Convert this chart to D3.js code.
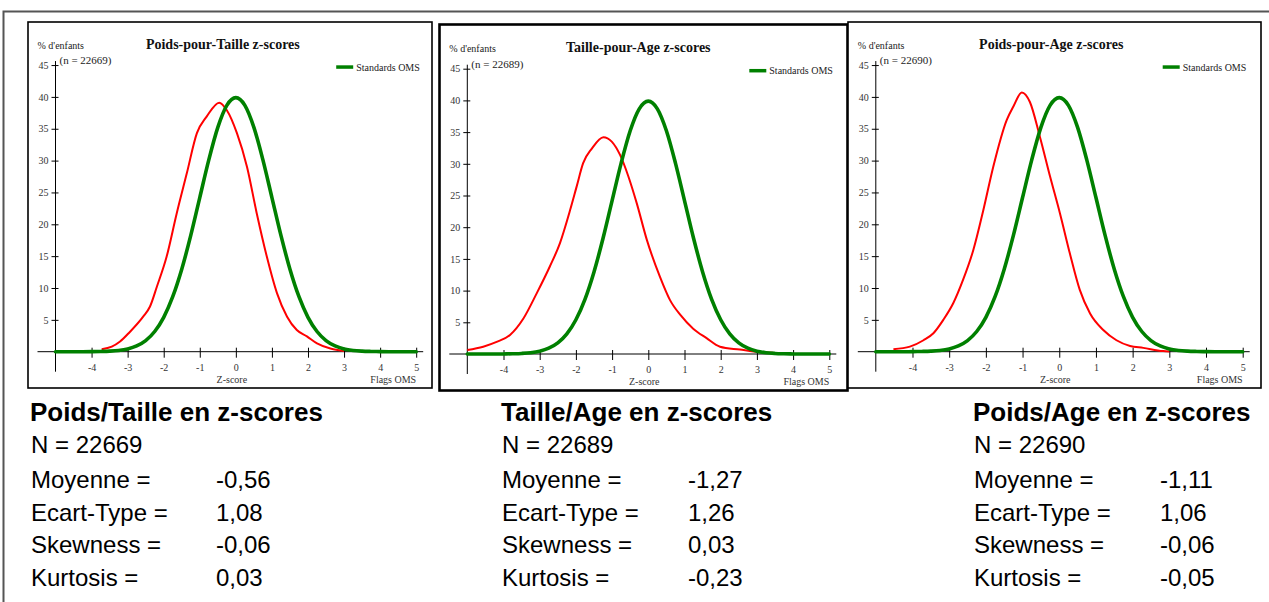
<!DOCTYPE html>
<html><head><meta charset="utf-8">
<script src="https://cdn.jsdelivr.net/npm/d3@7"></script>
<style>body{margin:0;background:#fff;} svg{display:block;}</style>
</head><body><svg id="c" width="1269" height="602"></svg>
<script>
// ---------- DATA ----------
const zTicks = [-4,-3,-2,-1,0,1,2,3,4,5];
const yTicks = [5,10,15,20,25,30,35,40,45];

// WHO standard curve (% of children), z from -5 to 5 by 0.25
const omsZ = [-5,-4.75,-4.5,-4.25,-4,-3.75,-3.5,-3.25,-3,-2.75,-2.5,-2.25,-2,-1.75,-1.5,-1.25,-1,-0.75,-0.5,-0.25,0,
              0.25,0.5,0.75,1,1.25,1.5,1.75,2,2.25,2.5,2.75,3,3.25,3.5,3.75,4,4.25,4.5,4.75,5];
const omsV = [0,0,0,0,0.01,0.04,0.09,0.20,0.44,0.91,1.75,3.17,5.40,8.63,12.95,18.26,24.20,30.11,35.21,38.67,39.89,
              38.67,35.21,30.11,24.20,18.26,12.95,8.63,5.40,3.17,1.75,0.91,0.44,0.20,0.09,0.04,0.01,0,0,0,0];

// Observed survey curves
const wfhZ = [-3.72,-3.44,-3.21,-2.94,-2.57,-2.38,-2.19,-1.92,-1.64,-1.36,-1.08,-0.81,-0.46,-0.25,0.03,0.31,0.58,0.86,1.14,1.42,1.69,1.97,2.25,2.62,2.9,3.0];
const wfhV = [0.4,0.8,1.6,3.1,5.5,7.1,10.2,14.9,21.7,28.0,34.3,36.9,39.1,37.9,34.3,29.0,21.7,14.9,9.2,5.5,3.4,2.4,1.3,0.5,0.2,0.1];

const hfaZ = [-5.0,-4.56,-4.19,-3.82,-3.45,-3.08,-2.72,-2.44,-2.16,-1.98,-1.8,-1.56,-1.24,-1.01,-0.78,-0.55,-0.32,-0.04,0.32,0.6,0.88,1.24,1.61,1.98,2.53,3.08,3.45];
const hfaV = [0.63,1.15,1.9,3.0,5.6,9.6,13.8,17.5,22.7,26.4,30.1,32.4,34.2,33.5,31.4,28.0,23.8,18.0,12.2,8.5,6.2,4.0,2.5,1.15,0.7,0.3,0.2];

const wfaZ = [-4.52,-4.07,-3.7,-3.43,-3.16,-2.89,-2.62,-2.34,-2.07,-1.8,-1.43,-1.25,-1.02,-0.8,-0.53,-0.25,0.02,0.29,0.56,0.84,1.2,1.56,1.93,2.29,2.83,3.0];
const wfaV = [0.4,0.8,1.8,2.9,5.0,7.6,11.3,16.0,22.2,29.0,36.4,38.5,40.7,39.2,33.8,27.5,21.7,15.4,9.7,6.0,3.4,1.8,0.9,0.6,0.1,0.05];

const chartTitles = ["Poids-pour-Taille z-scores","Taille-pour-Age z-scores","Poids-pour-Age z-scores"];
const nValues = [22669, 22689, 22690];
const summaryTitles = ["Poids/Taille en z-scores","Taille/Age en z-scores","Poids/Age en z-scores"];
const statLabels = ["Moyenne =","Ecart-Type =","Skewness =","Kurtosis ="];
const statValues = [["-0,56","1,08","-0,06","0,03"],["-1,27","1,26","0,03","-0,23"],["-1,11","1,06","-0,06","-0,05"]];
const obsZ = [wfhZ, hfaZ, wfaZ];
const obsV = [wfhV, hfaV, wfaV];

// ---------- LAYOUT ----------
const panels = [
  {bx:28,  by:22,  bw:404, bh:366, sw:1.6, axisX:55.5,  zeroY:351.7, unitX:36.07, unitY:6.37, titleDx:-13, titleY:49, textX:30,  valX:216},
  {bx:439.5,by:24.5,bw:408, bh:366, sw:2.6, axisX:467.3, zeroY:354,   unitX:36.2,  unitY:6.34, titleDx:-10, titleY:52, textX:501, valX:688},
  {bx:848, by:22,  bw:413, bh:366, sw:1.6, axisX:875.8, zeroY:351.7, unitX:36.69, unitY:6.37, titleDx:-8,  titleY:49, textX:973, valX:1160}
];
const SERIF = "'Liberation Serif','Times New Roman',serif";
const SANS = "'Liberation Sans',Arial,sans-serif";

const svg = d3.select("#c");
svg.append("rect").attr("width",1269).attr("height",602).attr("fill","#fff");
// outer frame
svg.append("path").attr("d","M3.5,602V11.5H1269").attr("fill","none").attr("stroke","#555").attr("stroke-width",2);

panels.forEach((p, i) => {
  const g = svg.append("g");
  g.append("rect").attr("x",p.bx).attr("y",p.by).attr("width",p.bw).attr("height",p.bh)
    .attr("fill","#fff").attr("stroke","#000").attr("stroke-width",p.sw);

  const x = d3.scaleLinear().domain([-5,5]).range([p.axisX, p.axisX + 10*p.unitX]);
  const y = d3.scaleLinear().domain([0,45]).range([p.zeroY, p.zeroY - 45*p.unitY]);

  // axis lines
  g.append("line").attr("x1",p.axisX-18).attr("x2",x(5)+7).attr("y1",p.zeroY).attr("y2",p.zeroY)
    .attr("stroke","#000").attr("stroke-width",1);
  g.append("line").attr("x1",p.axisX).attr("x2",p.axisX).attr("y1",y(45)-4).attr("y2",p.zeroY+20)
    .attr("stroke","#000").attr("stroke-width",1);

  // y axis
  const ya = g.append("g").attr("transform",`translate(${p.axisX},0)`)
    .call(d3.axisLeft(y).tickValues(yTicks).tickSize(4).tickPadding(3));
  ya.select(".domain").remove();
  ya.selectAll(".tick line").attr("x1",3).attr("stroke","#000");
  ya.selectAll(".tick text").attr("font-family",SERIF).attr("font-size",10).attr("fill","#333");

  // x axis
  const xa = g.append("g").attr("transform",`translate(0,${p.zeroY})`)
    .call(d3.axisBottom(x).tickValues(zTicks).tickSize(6).tickPadding(6).tickFormat(d => String(d)));
  xa.select(".domain").remove();
  xa.selectAll(".tick line").attr("y1",-4).attr("stroke","#000");
  xa.selectAll(".tick text").attr("font-family",SERIF).attr("font-size",10).attr("fill","#333");

  // labels
  g.append("text").attr("x",p.axisX-18).attr("y",p.titleY).attr("font-family",SERIF).attr("font-size",10)
    .attr("fill","#222").text("% d'enfants");
  g.append("text").attr("x",p.axisX+4).attr("y",y(45)-1).attr("font-family",SERIF).attr("font-size",11)
    .attr("fill","#222").text(`(n = ${nValues[i]})`);
  g.append("text").attr("x",x(0)+p.titleDx).attr("y",p.titleY).attr("text-anchor","middle")
    .attr("font-family",SERIF).attr("font-size",14).attr("font-weight","bold").attr("fill","#111").text(chartTitles[i]);
  g.append("text").attr("x",x(0)-4).attr("y",p.zeroY+31).attr("text-anchor","middle")
    .attr("font-family",SERIF).attr("font-size",10).attr("fill","#333").text("Z-score");
  g.append("text").attr("x",x(5)).attr("y",p.zeroY+31).attr("text-anchor","end")
    .attr("font-family",SERIF).attr("font-size",10).attr("fill","#333").text("Flags OMS");

  // legend
  g.append("line").attr("x1",x(5)-80).attr("x2",x(5)-63).attr("y1",y(45)+2).attr("y2",y(45)+2)
    .attr("stroke","#008000").attr("stroke-width",3.5);
  g.append("text").attr("x",x(5)-60).attr("y",y(45)+5.5).attr("font-family",SERIF).attr("font-size",10)
    .attr("fill","#222").text("Standards OMS");

  // curves
  const line = d3.line().x(d => x(d[0])).y(d => y(d[1])).curve(d3.curveMonotoneX);
  const obs = obsZ[i].map((z, k) => [z, obsV[i][k]]);
  const oms = omsZ.map((z, k) => [z, omsV[k]]);
  g.append("path").attr("d",line(obs)).attr("fill","none").attr("stroke","#ff0000").attr("stroke-width",2)
    .attr("stroke-linejoin","round");
  g.append("path").attr("d",line(oms)).attr("fill","none").attr("stroke","#008000").attr("stroke-width",3.6)
    .attr("stroke-linejoin","round").attr("stroke-linecap","round");

  // summary text
  const t = svg.append("g").attr("font-family",SANS).attr("fill","#000");
  t.append("text").attr("x",p.textX).attr("y",420.5).attr("font-size",26).attr("font-weight","bold").text(summaryTitles[i]);
  t.append("text").attr("x",p.textX+1).attr("y",453.3).attr("font-size",24).text(`N = ${nValues[i]}`);
  const base = [487.7, 521, 553.3, 585.5];
  statLabels.forEach((lab, k) => {
    t.append("text").attr("x",p.textX+1).attr("y",base[k]).attr("font-size",24).text(lab);
    t.append("text").attr("x",p.valX).attr("y",base[k]).attr("font-size",24).text(statValues[i][k]);
  });
});
</script></body></html>
